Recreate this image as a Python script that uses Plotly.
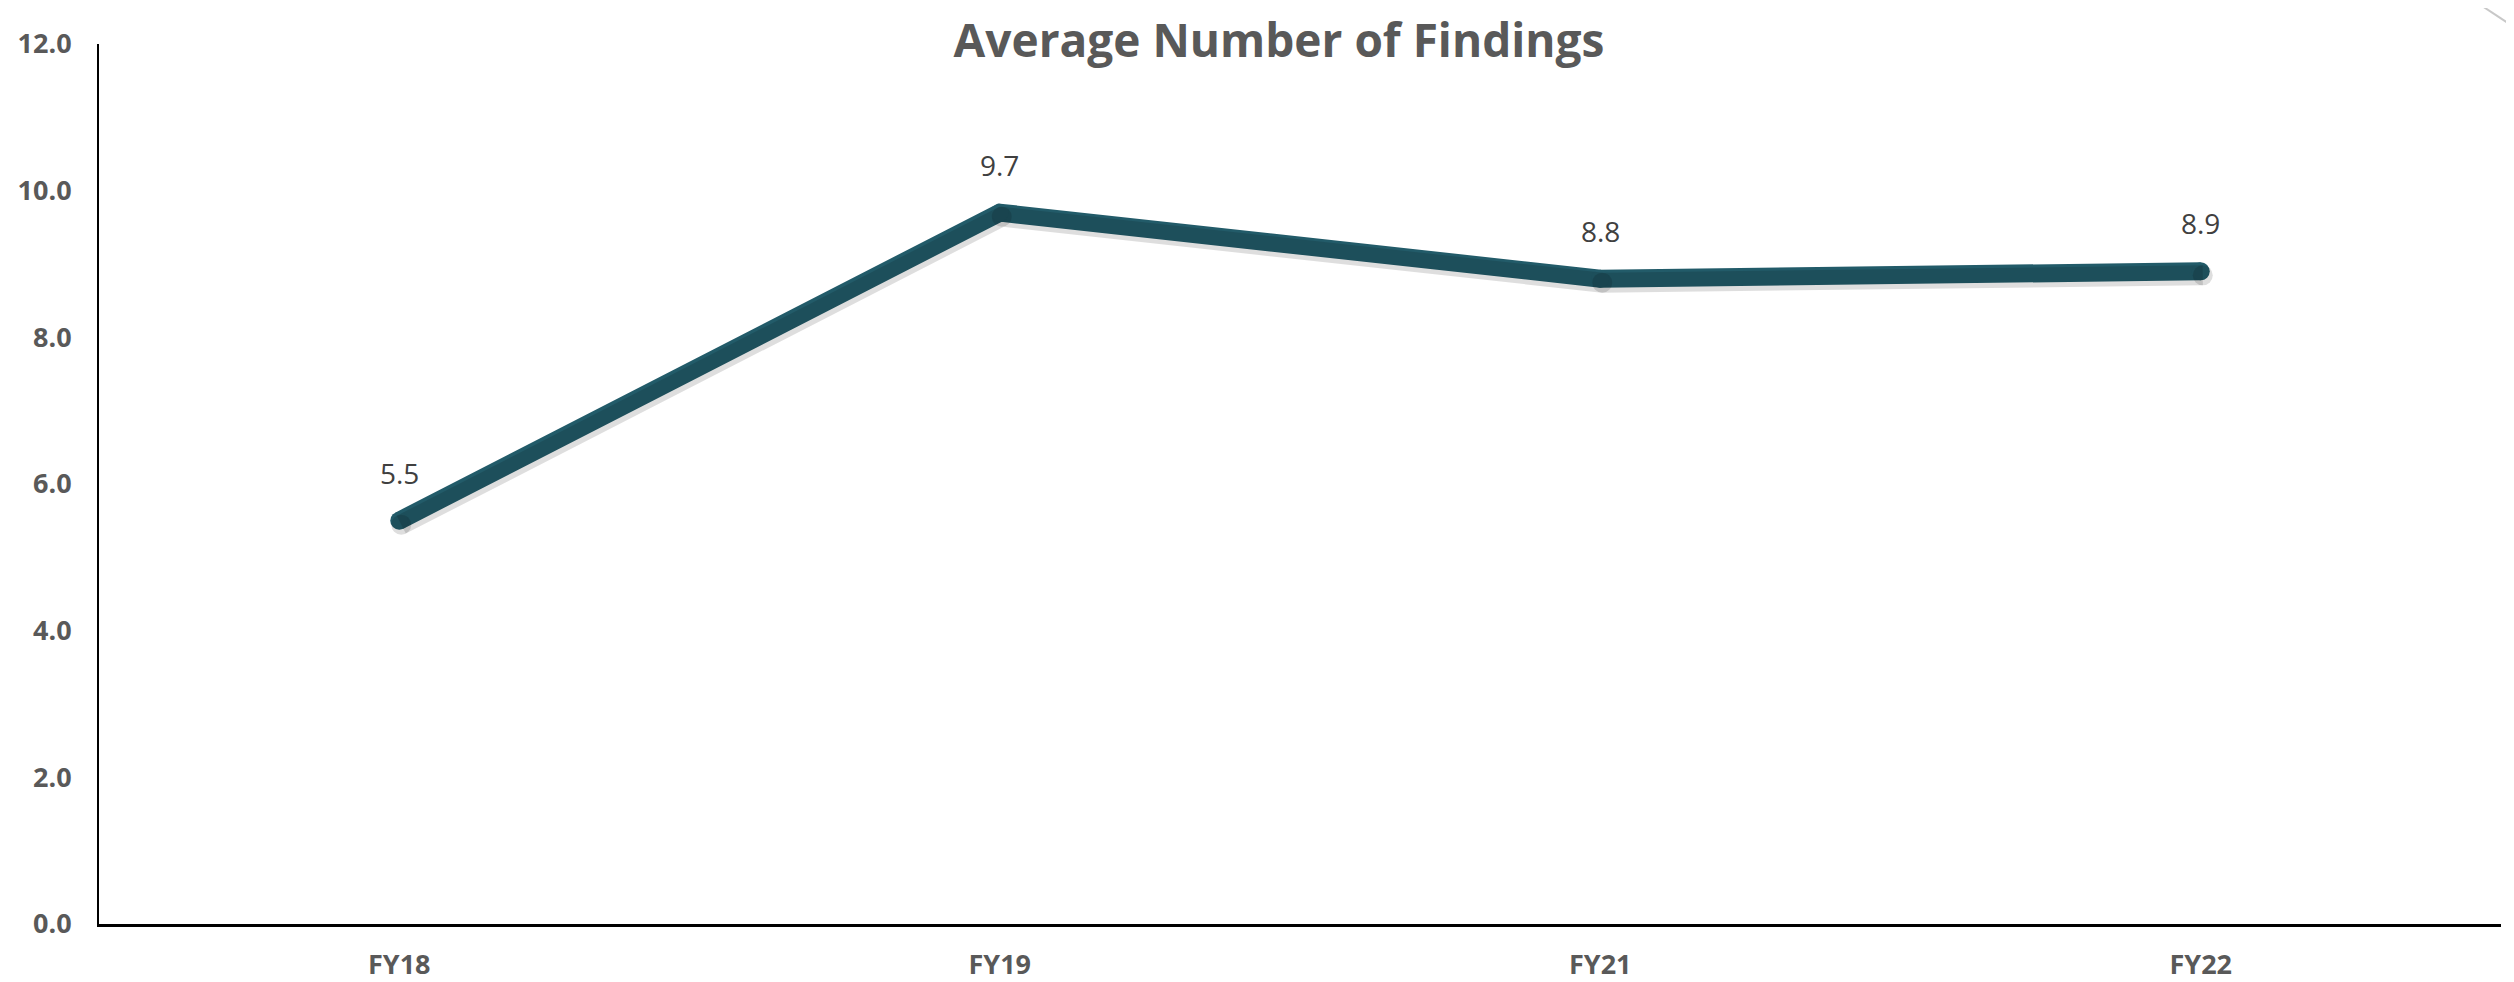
import plotly.graph_objects as go

categories = ["FY18", "FY19", "FY21", "FY22"]
avg_findings = [5.5, 9.7, 8.8, 8.9]
tick_vals = [0, 2, 4, 6, 8, 10, 12]
tick_text = ["0.0", "2.0", "4.0", "6.0", "8.0", "10.0", "12.0"]
title_text = "Average Number of Findings"

# page body has an 8px margin: figure placed to fill the 2514x982 window
W, H = 2498, 974
L, R, T, B = 91, 5, 36, 58
line_color = "#225B69"
PW, PH = W - L - R, H - T - B

# shadow offset in axis units (shift right 2px, down 4px)
sx = 2 / (PW / 4)
sy = 4 / (PH / 12)

fig = go.Figure()

fig.add_trace(go.Scatter(
    x=categories, y=avg_findings, mode="lines+markers",
    line=dict(color="rgba(0,0,0,0.13)", width=20),
    marker=dict(color="rgba(0,0,0,0.13)", size=20, line=dict(width=0)),
    xaxis="x2", yaxis="y2", hoverinfo="skip", showlegend=False,
))

fig.add_trace(go.Scatter(
    x=categories, y=avg_findings, mode="lines+markers",
    line=dict(color=line_color, width=18),
    marker=dict(color=line_color, size=18, line=dict(width=0)),
    showlegend=False,
))

annotations = [
    dict(x=c, y=v, xref="x", yref="y", text=f"{v:.1f}", showarrow=False,
         yshift=48, xanchor="center", yanchor="middle",
         font=dict(family="Open Sans", size=28, color="#404040"))
    for c, v in zip(categories, avg_findings)
]

fig.update_layout(
    width=W, height=H,
    margin=dict(l=L, r=R, t=T, b=B),
    paper_bgcolor="white", plot_bgcolor="white",
    title=dict(text=title_text, x=1271 / W, xanchor="center",
               y=1 - 33 / H, yanchor="middle",
               font=dict(family="Open Sans", size=46, color="#595959", weight="bold")),
    xaxis=dict(type="category", categoryorder="array", categoryarray=categories,
               range=[-0.5, 3.5], showline=True, linecolor="black", linewidth=3,
               showgrid=False, zeroline=False, ticks="", automargin=False,
               tickfont=dict(family="Open Sans", size=27, color="#595959", weight="bold"),
               ticklabelstandoff=15),
    yaxis=dict(range=[0, 12], tickvals=tick_vals, ticktext=tick_text,
               showline=True, linecolor="black", linewidth=2,
               showgrid=False, zeroline=False, ticks="", automargin=False,
               tickfont=dict(family="Open Sans", size=27, color="#595959", weight="bold"),
               ticklabelstandoff=20),
    xaxis2=dict(type="category", categoryorder="array", categoryarray=categories,
                range=[-0.5 - sx, 3.5 - sx], overlaying="x", visible=False),
    yaxis2=dict(range=[0 + sy, 12 + sy], overlaying="y", visible=False),
    annotations=annotations,
    shapes=[
        dict(type="line", xref="paper", yref="paper",
             x0=(2465 - L) / PW, y0=1 + (T + 8) / PH,
             x1=(2506 - L) / PW, y1=1 + (T - 19) / PH,
             line=dict(color="#C8C8C8", width=2)),
        dict(type="line", xref="paper", yref="paper",
             x0=(2491 - L) / PW, y0=1 + (T + 8) / PH,
             x1=(2506 - L) / PW, y1=1 + (T - 1) / PH,
             line=dict(color="#C8C8C8", width=2)),
    ],
)

fig.write_html("out.html")
